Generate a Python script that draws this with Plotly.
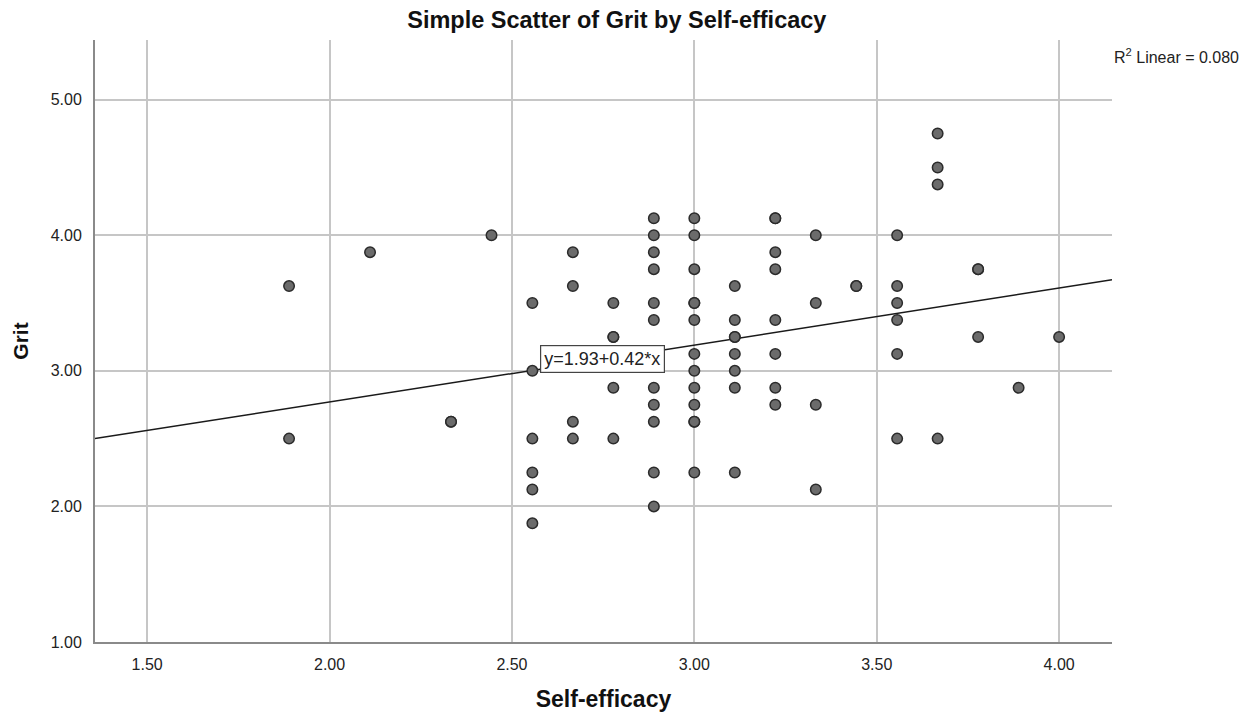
import plotly.graph_objects as go

self_efficacy = (
    [1.889] * 2 + [2.111] + [2.333] * 2 + [2.444] + [2.556] * 6 + [2.667] * 4 +
    [2.778] * 5 + [2.889] * 11 + [3.0] * 13 + [3.111] * 8 + [3.222] * 8 +
    [3.333] * 4 + [3.444] * 2 + [3.556] * 6 + [3.667] * 4 + [3.778] * 3 +
    [3.889] + [4.0]
)
grit = (
    [3.625, 2.5] +
    [3.875] +
    [2.625, 2.625] +
    [4.0] +
    [3.5, 3.0, 2.5, 2.25, 2.125, 1.875] +
    [3.875, 3.625, 2.625, 2.5] +
    [3.5, 3.25, 3.25, 2.875, 2.5] +
    [4.125, 4.0, 3.875, 3.75, 3.5, 3.375, 2.875, 2.75, 2.625, 2.25, 2.0] +
    [4.125, 4.0, 3.75, 3.5, 3.5, 3.375, 3.125, 3.0, 2.875, 2.75, 2.625, 2.625, 2.25] +
    [3.625, 3.375, 3.25, 3.25, 3.125, 3.0, 2.875, 2.25] +
    [4.125, 4.125, 3.875, 3.75, 3.375, 3.125, 2.875, 2.75] +
    [4.0, 3.5, 2.75, 2.125] +
    [3.625, 3.625] +
    [4.0, 3.625, 3.5, 3.375, 3.125, 2.5] +
    [4.75, 4.5, 4.375, 2.5] +
    [3.75, 3.75, 3.25] +
    [2.875] +
    [3.25]
)

fit_intercept = 1.93
fit_slope = 0.42
r2_linear = 0.080

x_range = [1.357, 4.145]
y_range = [1.0, 5.44]
x_ticks = [1.5, 2.0, 2.5, 3.0, 3.5, 4.0]
y_ticks = [1.0, 2.0, 3.0, 4.0, 5.0]

FONT = "Liberation Sans, Arial, sans-serif"
GRID = "#c6c6c6"

fig = go.Figure()

fig.add_trace(go.Scatter(
    x=x_range,
    y=[fit_intercept + fit_slope * v for v in x_range],
    mode="lines",
    line=dict(color="#1a1a1a", width=1.5),
    hoverinfo="skip",
    showlegend=False,
))

fig.add_trace(go.Scatter(
    x=self_efficacy, y=grit, mode="markers",
    marker=dict(size=10.5, color="#6b6b6b", line=dict(color="#2b2b2b", width=1.5)),
    showlegend=False,
))

fig.add_annotation(
    x=2.749, y=3.089, xref="x", yref="y",
    text=f"y={fit_intercept:.2f}+{fit_slope:.2f}*x",
    showarrow=False,
    font=dict(family=FONT, size=18, color="#222"),
    bgcolor="white", bordercolor="#444", borderwidth=1.2, borderpad=3,
)

fig.add_annotation(
    x=1.0, y=1.0, xref="paper", yref="paper", xanchor="left", yanchor="top",
    xshift=0, yshift=-4,
    text=f"R<sup>2</sup> Linear = {r2_linear:.3f}",
    showarrow=False,
    font=dict(family=FONT, size=16, color="#222"),
)

fig.update_layout(
    width=1240, height=704,
    paper_bgcolor="white", plot_bgcolor="white",
    margin=dict(l=87, r=136, t=32, b=70, autoexpand=False),
    title=dict(
        text="<b>Simple Scatter of Grit by Self-efficacy</b>",
        x=0.491, xanchor="center", y=0.983, yanchor="middle",
        font=dict(family=FONT, size=23.5, color="#111"),
    ),
    font=dict(family=FONT, size=16, color="#222"),
)

fig.update_xaxes(
    range=x_range, tickvals=x_ticks, ticktext=[f"{v:.2f}" for v in x_ticks],
    tickfont=dict(family=FONT, size=16, color="#222"),
    showgrid=True, gridcolor=GRID, gridwidth=1.5, zeroline=False,
    showline=True, linecolor="#8a8a8a", linewidth=2,
    ticks="", ticklabelstandoff=7,
    title=dict(text="<b>Self-efficacy</b>", font=dict(family=FONT, size=23, color="#111"), standoff=26),
)
fig.update_yaxes(
    range=y_range, tickvals=y_ticks, ticktext=[f"{v:.2f}" for v in y_ticks],
    tickfont=dict(family=FONT, size=16, color="#222"),
    showgrid=True, gridcolor=GRID, gridwidth=1.5, zeroline=False,
    showline=True, linecolor="#8a8a8a", linewidth=2,
    ticks="", ticklabelstandoff=8,
    title=dict(text="<b>Grit</b>", font=dict(family=FONT, size=21, color="#111"), standoff=16),
)

fig.write_html("out.html")
